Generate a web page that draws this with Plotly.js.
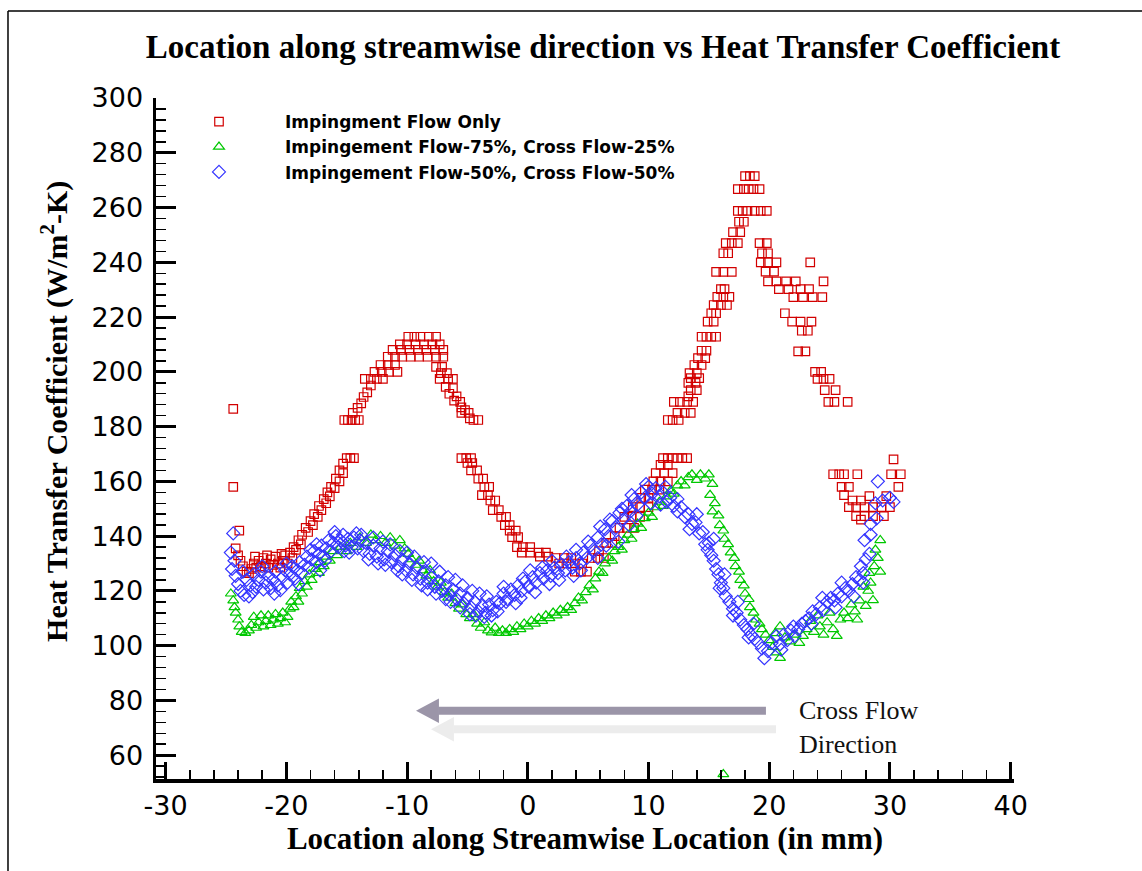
<!DOCTYPE html>
<html>
<head>
<meta charset="utf-8">
<script src="https://cdn.plot.ly/plotly-3.0.1.min.js"></script>
<style>
  html, body { margin: 0; padding: 0; background: #fff; }
  #chart { width: 1142px; height: 871px; }
</style>
</head>
<body>
<div id="chart"></div>
<script>
// ---------------- DATA ----------------
const seriesNames = [
  'Impingment Flow Only',
  'Impingement Flow-75%, Cross Flow-25%',
  'Impingement Flow-50%, Cross Flow-50%'
];
const xTickValues = [-30, -20, -10, 0, 10, 20, 30, 40];
const xTickLabels = ['-30', '-20', '-10', '0', '10', '20', '30', '40'];
const yTickValues = [60, 80, 100, 120, 140, 160, 180, 200, 220, 240, 260, 280, 300];

// Impingement flow only  [x (mm), h (W/m2-K)]
const redStart = [[-24.4,186.5],[-24.4,158],[-23.9,142],[-24.2,135.5],[-24.0,133],[-23.8,131],[-23.6,129],[-23.3,127],[-23.1,126.5],[-22.9,128],[-22.7,130],[-22.5,128.5],[-22.3,131],[-22.1,129],[-21.9,132],[-21.7,130],[-21.5,128.5],[-21.3,131.5],[-21.1,129.5],[-20.9,132.5],[-20.7,130],[-20.5,128.5],[-20.3,131],[-20.1,133],[-19.9,130],[-19.7,134],[-19.5,132],[-22.6,132.5],[-21.6,133],[-20.4,133.5]];
const redRise1 = [[-19.4,136],[-19.2,135],[-19.0,138.5],[-18.8,137],[-18.7,140.5],[-18.4,143],[-18.2,141.5],[-18.0,145.5],[-17.8,144],[-17.7,148],[-17.4,147],[-17.3,151],[-17.1,149.5],[-16.9,153.5],[-16.7,152],[-16.6,156],[-16.4,154.5],[-16.3,158],[-16.0,157.5],[-15.9,161],[-15.6,160],[-15.6,164],[-15.3,163],[-15.3,166.5],[-15.0,168.5],[-14.7,168.5],[-14.4,168.5]];
const redArc1 = [[-15.2,182.4],[-14.9,182.4],[-14.6,182.4],[-14.3,182.4],[-14.0,182.4],[-14.5,185],[-14.1,186.8],[-13.8,188.5],[-13.6,190.8],[-13.3,192.5],[-13.0,195],[-13.5,197.4],[-13.0,197.4],[-12.5,197.4],[-12.0,197.4],[-12.7,200],[-12.1,200],[-11.5,200],[-10.8,200],[-12.2,202.5],[-11.6,202.5],[-11.0,202.5],[-11.6,205.5],[-11.0,205.5],[-10.4,205.5],[-9.7,205.5],[-9.0,205.5],[-8.3,205.5],[-7.6,205.5],[-7.0,205.5],[-11.2,208],[-10.5,208],[-9.8,208],[-9.1,208],[-8.4,208],[-7.7,208],[-7.0,208],[-10.6,210],[-10.0,210],[-9.3,210],[-8.6,210],[-7.9,210],[-7.3,210],[-9.9,212.8],[-9.4,212.8],[-8.9,212.8],[-8.2,212.8],[-7.6,212.8],[-7.6,201.8],[-7.1,201.8],[-7.2,199.5],[-6.7,199.5],[-7.3,197.4],[-6.6,197.4],[-6.2,197.4],[-6.8,194.5],[-6.2,194],[-6.5,192],[-5.9,191],[-6.1,189.5],[-5.6,189],[-5.5,187],[-5.2,186],[-5.5,185],[-4.9,185],[-4.8,183],[-4.5,182.4],[-4.1,182.4]];
const redFall = [[-5.5,168.5],[-5.1,168.5],[-4.7,168.5],[-5.0,166.7],[-4.6,166.7],[-4.7,164],[-4.2,164],[-4.1,161],[-3.7,161],[-3.6,158],[-3.2,158],[-3.8,155],[-3.3,155],[-3.1,153],[-2.7,153],[-2.9,149.5],[-2.4,149.5],[-2.2,147],[-1.8,147],[-1.9,144],[-1.5,144],[-1.5,142],[-1.0,142],[-1.3,139.6],[-0.8,139.6],[-0.9,136],[-0.4,136],[0.2,136],[-0.5,134],[0.2,134],[0.9,134],[1.5,134],[1.0,132.5],[1.7,132.5],[2.3,132],[3.0,132],[3.6,132],[2.6,130],[3.2,130],[3.9,130],[4.5,130],[3.9,127],[4.4,127],[4.9,127]];
const redRise2 = [[5.3,132],[5.8,132],[6.3,132],[5.9,134.5],[6.5,137.5],[7.0,137.5],[7.2,140],[7.6,143],[8.2,143],[8.8,143],[8.0,147],[8.6,147],[9.3,147],[8.7,150.6],[9.3,150.6],[10.0,150.6],[9.4,154],[10.0,154],[9.7,157],[10.3,157],[10.9,157],[10.4,160],[11.0,160],[11.6,160],[10.6,163],[11.3,163],[12.0,163],[11.0,166],[11.6,166],[11.2,168.5],[11.6,168.5],[12.0,168.5],[12.4,168.5],[12.8,168.5],[13.2,168.5]];
const redPeak2 = [[11.6,182.4],[12.0,182.4],[12.5,182.4],[12.4,185],[13.0,185],[13.5,185],[12.1,189],[12.6,189],[13.2,189],[13.7,189],[13.3,191],[13.5,193.3],[14.0,193.3],[13.3,196],[13.9,196],[13.5,197.7],[14.2,197.7],[13.4,199.5],[14.0,199.5],[13.8,202.5],[14.4,202.5],[14.1,205],[14.7,205],[14.4,207.7],[14.8,207.7],[14.4,212.8],[14.8,212.8],[15.2,212.8],[15.6,212.8],[14.9,218.3],[15.4,218.3],[15.2,221.4],[15.6,221.4],[15.4,224.4],[16.0,224.4],[16.5,224.4],[15.7,227.4],[16.2,227.4],[16.7,227.4],[16.0,230.2],[16.3,230.2],[15.6,236.5],[16.2,236.5],[16.9,236.5],[16.2,243.3],[16.6,243.3],[16.4,247],[16.9,247],[17.4,247],[17.0,251],[17.6,251],[17.5,254.8],[17.9,254.8],[17.4,258.8],[17.8,258.8],[18.2,258.8],[17.4,266.7],[17.9,266.7],[18.3,266.7],[18.7,266.7],[19.2,266.7],[18.0,271.5],[18.4,271.5],[18.8,271.5]];
const redFall2 = [[18.8,258.8],[19.3,258.8],[19.8,258.8],[19.2,247],[19.8,247],[19.4,243.3],[19.9,243.3],[19.3,240],[19.9,240],[20.6,240],[23.4,240],[19.7,236.6],[20.4,236.6],[19.9,233],[20.6,233],[21.4,233],[22.2,233],[24.5,233],[20.8,230.2],[21.6,230.2],[22.6,230.2],[23.3,230.2],[22.0,227.3],[22.8,227.3],[23.6,227.3],[24.4,227.3],[21.3,221.4],[21.9,218.3],[22.6,218.3],[23.5,218.3],[22.7,215],[23.2,215],[22.4,207.5],[23.0,207.5],[23.8,200],[24.3,200],[24.0,197.4],[24.5,197.4],[25.0,197.4],[24.6,193.3],[25.5,193.3],[24.9,189],[25.4,189],[26.5,189]];
const redThird = [[25.3,162.6],[25.8,162.6],[26.2,162.6],[27.3,162.6],[30.1,162.6],[30.9,162.6],[30.3,168],[26.0,158],[26.6,158],[30.7,158],[26.2,155],[26.9,153],[27.6,153],[28.3,154.6],[29.7,154.6],[26.6,150.6],[27.2,150.6],[27.9,150.6],[28.6,150.6],[29.3,150.6],[30.0,150.6],[27.2,147.3],[27.9,147.3],[28.6,147.3],[29.5,147.3],[27.6,146]];

// Impingement 75% / cross flow 25%
const greenLeft = [[-24.6,119],[-24.4,116.5],[-24.3,114],[-24.2,112],[-24.0,109.5],[-23.9,107],[-23.7,105],[-23.4,104.6],[-23.1,105.5],[-22.9,107.5],[-22.7,110.5],[-22.5,106.5],[-22.3,108.5],[-22.1,111],[-21.9,107],[-21.7,109],[-21.5,111],[-21.3,107.5],[-21.1,109.5],[-20.9,111.5],[-20.7,108],[-20.5,110],[-20.3,112],[-20.1,108.5],[-19.9,110.5],[-19.7,113.5],[-19.6,116],[-19.4,114],[-19.2,118],[-19.0,116],[-18.9,121],[-18.7,119],[-18.5,123.5],[-18.3,121.5],[-18.1,126],[-17.9,124],[-17.6,128],[-17.3,126.5],[-17.2,130.5],[-16.9,129],[-16.7,132.5],[-16.4,131],[-16.2,134.5],[-15.8,133],[-15.5,136],[-15.0,134.5],[-14.7,137.5],[-14.2,136],[-13.9,139.5],[-13.4,137.5],[-13.0,140.5],[-12.6,138.5],[-12.2,140],[-11.8,137.5],[-11.4,139.5],[-11.0,136.5],[-10.6,138.5],[-10.2,135.5],[-9.9,133.5],[-9.6,131.5],[-9.3,129.5],[-9.0,131],[-8.7,127.5],[-8.4,125.5],[-8.1,127.5],[-7.8,123.5],[-7.5,121.5],[-7.2,123],[-6.9,119.5],[-6.6,117.5],[-6.3,119],[-6.0,115.5],[-5.7,113.5],[-5.4,115],[-5.1,111.5],[-4.8,110],[-4.5,111.5],[-4.2,108],[-3.9,106.5],[-3.6,108.5],[-3.3,105.5],[-3.0,104.8],[-2.7,106.5],[-2.4,104.6],[-2.1,105.5],[-1.8,104.6],[-1.5,106],[-1.2,105],[-0.9,107],[-0.6,106],[-0.3,108]];
const greenMid = [[0.0,107],[0.3,109],[0.6,108],[0.9,110],[1.2,109],[1.5,111],[1.8,110],[2.1,112],[2.4,111],[2.7,113],[3.0,112],[3.3,114],[3.6,113],[3.9,115.5],[4.2,117.5],[4.5,116.5],[4.8,119.5],[5.1,122],[5.4,120.5],[5.6,124.5],[5.9,127],[6.2,126.5],[6.4,130],[6.7,132],[7.0,131],[7.2,134.5],[7.5,136],[7.8,135],[8.0,138.5],[8.3,140.5],[8.6,139],[8.8,142.5],[9.1,144.5],[9.4,143],[9.7,146.5],[10.0,148.5],[10.3,147],[10.6,150.5],[10.9,152.5],[11.2,151],[11.5,154.5],[11.8,156.5],[12.1,155.5],[12.4,158.5],[12.7,160],[13.0,158.5],[13.3,161.5],[13.6,162.5],[14.0,160.5],[14.3,162.5],[14.7,161],[15.0,162.5]];
const greenRight = [[15.3,159],[15.1,155],[15.5,152],[15.3,149],[15.8,147.5],[15.9,144],[16.2,142],[16.3,139],[16.6,137],[16.8,134],[17.1,132],[17.2,129],[17.5,127],[17.6,124],[17.9,122],[18.0,119],[18.3,117],[18.4,114],[18.7,112],[18.9,109.5],[19.2,108],[19.4,106],[19.7,104],[20.0,102],[20.3,99.5],[20.6,97.5],[20.9,95.5],[20.5,104.5],[20.9,107],[21.3,103],[21.7,101.5],[22.1,104],[22.5,101],[22.8,103.5],[23.1,106],[23.4,109],[23.7,105],[24.0,111],[24.2,107],[24.5,104],[24.8,108.5],[25.0,112],[25.3,106],[25.6,103.5],[25.9,109.5],[26.2,112],[26.5,110],[26.8,115],[27.1,112.5],[27.3,109.5],[27.5,116.5],[27.8,121.5],[28.0,114.5],[28.2,120],[28.4,123],[28.6,116.6],[28.3,126.5],[28.7,129],[29.0,132],[29.2,127],[28.8,135],[29.2,138.5],[16.2,53]];

// Impingement 50% / cross flow 50%
const blueLeft = [[-24.4,141],[-24.6,134],[-24.3,131],[-24.5,128],[-24.2,125.5],[-24.0,122.5],[-23.8,120],[-23.5,118.5],[-23.1,118],[-22.8,119.5],[-23.6,127],[-23.3,124],[-23.0,122],[-22.7,126],[-22.5,121.5],[-22.3,124],[-22.1,127],[-21.9,120.5],[-21.7,123],[-21.5,125.5],[-21.3,121],[-21.1,124],[-20.9,127],[-20.7,122],[-20.5,120.3],[-20.3,125],[-20.1,127.5],[-19.9,123],[-19.7,126],[-19.5,129],[-19.3,124.5],[-19.1,127.5],[-18.9,130.5],[-18.7,126.5],[-18.5,129.5],[-18.3,132.5],[-18.1,128.5],[-17.9,131.5],[-17.7,134.5],[-17.5,130.5],[-17.3,133.5],[-17.1,136.5],[-16.9,132.5],[-16.7,135.5],[-16.5,138.5],[-16.3,134.5],[-16.1,137.5],[-15.9,140],[-15.7,136],[-15.5,138.5],[-15.3,140.5],[-15.1,136.5],[-14.9,139],[-14.6,136],[-14.4,139.5],[-14.1,135.5],[-13.9,138.5],[-13.6,134.5],[-13.4,137.5],[-13.1,133.5],[-12.8,136.5],[-12.5,132.5],[-12.2,135.5],[-11.9,131.5],[-11.6,134.5],[-11.3,130.5],[-11.0,133],[-10.7,129],[-10.4,131.5],[-10.1,127.5],[-9.8,130],[-9.5,126],[-9.2,128.5],[-8.9,124.5],[-8.6,127],[-8.3,123],[-8.0,125],[-7.7,121.5],[-7.4,123.5],[-7.1,120],[-6.8,122],[-6.5,118.5],[-6.2,120.5],[-5.9,117],[-5.6,119],[-5.3,115.5],[-5.0,117.5],[-4.7,114],[-4.4,116],[-4.1,112.5],[-3.8,114.5],[-3.5,112],[-3.2,115],[-2.9,113],[-2.6,116]];
const blueMid = [[-2.3,115.5],[-2.0,119],[-1.7,117],[-1.4,120.5],[-1.1,118.5],[-0.8,122],[-0.5,120],[-0.2,123.5],[0.1,121.5],[0.4,125],[0.7,123],[1.0,126.5],[1.3,124.5],[1.6,127.5],[1.9,125.5],[2.2,128.5],[2.5,126.5],[2.8,129.5],[3.1,127.5],[3.4,130.5],[3.7,128.5],[4.0,132],[4.3,130],[4.6,134],[4.9,132],[5.2,136.5],[5.5,134.5],[5.8,139.5],[6.1,137],[6.4,142.5],[6.7,140],[7.0,145.5],[7.3,143],[7.6,148.5],[7.9,146],[8.2,151],[8.5,149],[8.8,153.5],[9.1,151.5],[9.4,156],[9.7,154],[10.0,158],[10.3,155.5],[10.6,157.5],[10.9,154.5],[11.2,156],[11.5,152.5],[11.8,154]];
const blueRight = [[12.1,151],[12.4,149],[12.7,150.5],[13.0,147],[13.3,148],[13.6,144.5],[13.9,145],[14.2,141],[14.5,141.5],[14.7,137],[15.0,137.5],[15.2,133],[15.4,131],[15.6,128],[15.8,126],[16.0,123],[16.2,121],[16.4,118],[16.7,116],[17.0,113.5],[17.3,112],[17.6,109.5],[17.9,107.5],[18.2,106],[18.5,104],[18.8,102.5],[19.1,101],[19.4,99],[19.6,95.4],[19.9,98],[20.2,101],[20.6,103.5],[20.9,100.5],[21.2,104],[21.5,102],[21.8,105.5],[22.1,103.5],[22.4,106],[22.7,108],[23.0,109],[23.3,110],[23.6,112.5],[23.9,111.5],[24.2,114],[24.5,113],[24.8,116],[25.1,117.5],[25.4,116.5],[25.7,119],[26.0,118],[26.3,121],[26.6,120],[26.9,122.5],[27.2,125],[27.5,124],[27.8,126.5],[27.6,129],[28.0,131.5],[28.3,133.5],[27.9,138.5],[28.4,140.5],[28.4,144.5],[28.9,146.5],[28.8,152],[29.4,153],[30.0,154],[30.3,152.5],[29.0,160]];
const blueEdge = [[-22.0,129],[-21.0,119],[-20.0,130],[-19.0,122.5],[-18.0,135],[-17.2,127.5],[-16.0,141.5],[-14.8,134],[-13.8,140.5],[-12.4,130],[-12.0,138],[-10.4,126],[-10.0,134],[-8.3,120.5],[-8.0,130],[-6.4,116],[-6.0,124],[-4.3,111],[-4.0,119],[-3.0,111],[-2.0,121.5],[-0.6,117.5],[0.2,127.5],[1.8,122.5],[2.0,131],[3.8,125.5],[4.0,135],[5.8,132],[6.0,143.5],[7.5,138],[7.8,150],[9.0,147.5],[9.8,159],[11.0,151.5],[12.4,153.5],[13.4,142.5],[14.0,148],[14.9,135],[15.4,139],[15.9,121],[16.3,126],[17.0,111],[17.4,116],[18.3,103],[18.7,108],[21.0,98.5],[22.0,107],[23.5,108],[24.4,117.5],[25.5,114],[26.0,123],[27.0,118],[27.8,123]];
const blueFill = [[-17.5,137],[-16.8,131],[-15.2,134.5],[-14.2,141],[-13.2,131.5],[-12.8,139.5],[-11.8,129.5],[-11.4,137],[-10.8,127.5],[-10.6,134.5],[-9.6,124],[-9.4,132.5],[-8.8,122],[-8.6,130.5],[-7.6,119],[-7.3,127],[-6.8,117],[-6.6,125],[-5.6,114],[-5.4,122],[-4.8,111.5],[-4.6,120],[-3.6,110.5],[-3.4,118],[-2.5,112.5],[-1.8,116],[-1.0,115.5],[-0.4,124.5],[0.6,119.5],[1.2,128.5],[2.6,124],[3.2,132.5],[4.4,127.5],[5.0,138],[6.5,136.5],[6.8,146],[8.4,144],[8.6,155],[10.2,152],[11.4,158]];

// ---------------- BUILD ----------------
const redPts = [].concat(redStart, redRise1, redArc1, redFall, redRise2, redPeak2, redFall2, redThird);
const greenPts = [].concat(greenLeft, greenMid, greenRight);
const bluePts = [].concat(blueLeft, blueEdge, blueFill, blueMid, blueRight);

function mk(pts, name, symbol, color, size) {
  return {
    type: 'scatter', mode: 'markers', name: name,
    x: pts.map(p => p[0]), y: pts.map(p => p[1]),
    marker: { symbol: symbol, size: size, color: color, line: { width: 1.2, color: color } },
    cliponaxis: true
  };
}

const traces = [
  mk(redPts, seriesNames[0], 'square-open', '#d20000', 8.5),
  mk(greenPts, seriesNames[1], 'triangle-up-open', '#00c800', 9.5),
  mk(bluePts, seriesNames[2], 'diamond-open', '#3434ff', 10)
];

const serifFamily = 'Liberation Serif, Times New Roman, serif';
const tickFont = { family: 'DejaVu Sans, sans-serif', size: 27, color: '#000' };

// Cross-flow arrows (layout decoration, in axis units)
const arrowDark = { tipX: -9.26, tailX: 19.73, y: 76.26, color: '#9b95a8' };
const arrowLight = { tipX: -8.02, tailX: 20.56, y: 69.5, color: '#ececec' };
const headLen = 1.9, headHalf = 4.47;
function arrowShapes(a) {
  const bx = a.tipX + headLen;
  return [
    { type: 'line', xref: 'x', yref: 'y', x0: bx - 0.05, x1: a.tailX, y0: a.y, y1: a.y,
      line: { color: a.color, width: 8 } },
    { type: 'path', xref: 'x', yref: 'y',
      path: 'M' + a.tipX + ',' + a.y + ' L' + bx + ',' + (a.y + headHalf) + ' L' + bx + ',' + (a.y - headHalf) + ' Z',
      fillcolor: a.color, line: { width: 0 } }
  ];
}

const layout = {
  width: 1142, height: 871,
  paper_bgcolor: '#fff', plot_bgcolor: '#fff',
  margin: { l: 156, r: 128, t: 98, b: 92 },
  title: {
    text: 'Location along streamwise direction vs Heat Transfer Coefficient',
    font: { family: serifFamily, size: 33, color: '#000', weight: 'bold' },
    x: 0.528, xref: 'container', xanchor: 'center',
    y: 0.947, yref: 'container', yanchor: 'middle'
  },
  showlegend: true,
  legend: {
    x: -0.0035, y: 0.991, xanchor: 'left', yanchor: 'top',
    bgcolor: 'rgba(0,0,0,0)', borderwidth: 0,
    itemwidth: 122, tracegroupgap: 0,
    font: { family: 'DejaVu Sans, sans-serif', size: 17, color: '#000', weight: 'bold' }
  },
  xaxis: {
    range: [-30.8, 40.28], tickmode: 'array', tickvals: xTickValues, ticktext: xTickLabels,
    ticks: 'inside', ticklen: 17, tickwidth: 3, tickcolor: '#000',
    minor: { ticks: 'inside', ticklen: 9, tickwidth: 1.5, tickcolor: '#000', dtick: 2, tick0: 0, showgrid: false },
    showline: true, linewidth: 3.5, linecolor: '#000',
    showgrid: false, zeroline: false, automargin: false,
    tickfont: tickFont,
    title: { text: 'Location along Streamwise Location (in mm)',
             font: { family: serifFamily, size: 31, color: '#000', weight: 'bold' }, standoff: 6 }
  },
  yaxis: {
    range: [51.3, 300], tickmode: 'array', tickvals: yTickValues,
    ticks: 'inside', ticklen: 20, tickwidth: 3, tickcolor: '#000',
    minor: { ticks: 'inside', ticklen: 10, tickwidth: 1.5, tickcolor: '#000', dtick: 4, tick0: 0, showgrid: false },
    showline: true, linewidth: 3.5, linecolor: '#000',
    showgrid: false, zeroline: false, automargin: false,
    tickfont: tickFont, ticklabelstandoff: 4
  },
  shapes: [
    { type: 'line', xref: 'paper', yref: 'paper', x0: -0.1725, x1: 1.15, y0: 1.1278, y1: 1.1278, line: { color: '#000', width: 1.5 } },
    { type: 'line', xref: 'paper', yref: 'paper', x0: -0.1725, x1: -0.1725, y0: -0.14, y1: 1.1278, line: { color: '#000', width: 1.5 } }
  ].concat(arrowShapes(arrowLight), arrowShapes(arrowDark)),
  annotations: [
    { x: -0.1177, y: 0.539, xref: 'paper', yref: 'paper', textangle: -90,
      text: 'Heat Transfer Coefficient (W/m<sup>2</sup>-K)', showarrow: false,
      xanchor: 'center', yanchor: 'middle',
      font: { family: serifFamily, size: 30, color: '#000', weight: 'bold' } },
    { x: 22.3, y: 70.2, xref: 'x', yref: 'y', text: 'Cross Flow<br>Direction', showarrow: false,
      xanchor: 'left', yanchor: 'middle', align: 'left',
      font: { family: serifFamily, size: 26, color: '#111' } }
  ]
};

Plotly.newPlot('chart', traces, layout, { displayModeBar: false, staticPlot: true });
</script>
</body>
</html>
